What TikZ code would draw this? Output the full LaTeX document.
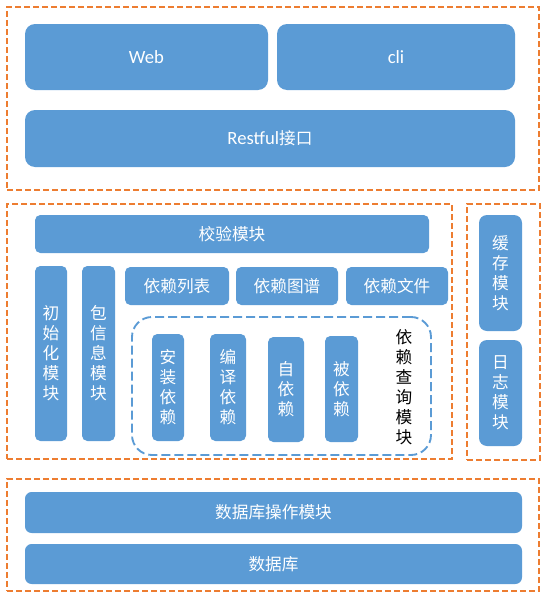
\documentclass[tikz,border=0pt]{standalone}
\usepackage{fontspec}
\setmainfont{Carlito}
\newfontfamily\cjk{Noto Sans CJK SC}
\definecolor{boxblue}{HTML}{5B9BD5}
\definecolor{frameorange}{HTML}{ED7D31}
\newcommand{\zhfont}{\cjk\fontsize{12.5}{15}\selectfont}
\newcommand{\enfont}{\fontsize{14}{16}\selectfont}
\begin{document}
\begin{tikzpicture}[x=0.75pt,y=-0.75pt,
  sz/.style 2 args={minimum width=#1*0.75pt, minimum height=#2*0.75pt},
  bluebox/.style={fill=boxblue, draw=none, inner sep=0pt, outer sep=0pt, text=white, align=center, font=\zhfont, rounded corners=4pt},
  bigbox/.style={bluebox, rounded corners=7.5pt},
  orangeframe/.style={draw=frameorange, line width=1.5pt, dash pattern=on 4.5pt off 2.25pt, inner sep=0pt, outer sep=0pt},
  queryframe/.style={draw=boxblue, line width=1.4pt, dash pattern=on 6.75pt off 3pt, rounded corners=15pt, inner sep=0pt, outer sep=0pt}]
\useasboundingbox (0,0) rectangle (550,596);

% frames
\node[orangeframe, sz={532}{183}] (topframe) at (273,98.5) {};
\node[orangeframe, sz={445}{255}] (midframe) at (229.5,331.5) {};
\node[orangeframe, sz={73}{256}] (sideframe) at (503.5,332) {};
\node[orangeframe, sz={532}{112}] (botframe) at (273,535) {};

% top layer
\node[bigbox, font=\enfont, sz={243}{66}] (web) at (146.5,57) {Web};
\node[bigbox, font=\enfont, sz={238}{66}] (cli) at (396,57) {cli};
\node[bigbox, font=\enfont, sz={490}{57}] (rest) at (270,138.5) {Restful{\zhfont 接口}};

% middle layer
\node[bluebox, sz={394}{38}] (check) at (232,234) {校验模块};
\node[bluebox, sz={32}{175}] (init) at (51,353.5) {初\\始\\化\\模\\块};
\node[bluebox, sz={33}{175}] (pkg) at (98.5,353.5) {包\\信\\息\\模\\块};
\node[bluebox, sz={104}{38}] (list) at (177,286) {依赖列表};
\node[bluebox, sz={102}{38}] (graph) at (287,286) {依赖图谱};
\node[bluebox, sz={102}{38}] (file) at (397,286) {依赖文件};

\node[queryframe, sz={299}{138}] (query) at (281.5,386) {};
\node[bluebox, sz={32}{107}] (install) at (168,387.5) {安\\装\\依\\赖};
\node[bluebox, sz={36}{107}] (compile) at (228,387.5) {编\\译\\依\\赖};
\node[bluebox, sz={36}{105}] (self) at (286,389.5) {自\\依\\赖};
\node[bluebox, sz={33}{106}] (rev) at (341.5,389) {被\\依\\赖};
\node[font=\zhfont, align=center, text=black, inner sep=0pt] (querylabel) at (404,387) {依\\赖\\查\\询\\模\\块};

% side
\node[bluebox, rounded corners=6pt, sz={43}{116}] (cache) at (500.5,273) {缓\\存\\模\\块};
\node[bluebox, rounded corners=6pt, sz={43}{106}] (log) at (500.5,393) {日\\志\\模\\块};

% bottom layer
\node[bluebox, rounded corners=5pt, sz={497}{41}] (dbop) at (273.5,512.5) {数据库操作模块};
\node[bluebox, rounded corners=5pt, sz={497}{40}] (db) at (273.5,564) {数据库};
\end{tikzpicture}
\end{document}
